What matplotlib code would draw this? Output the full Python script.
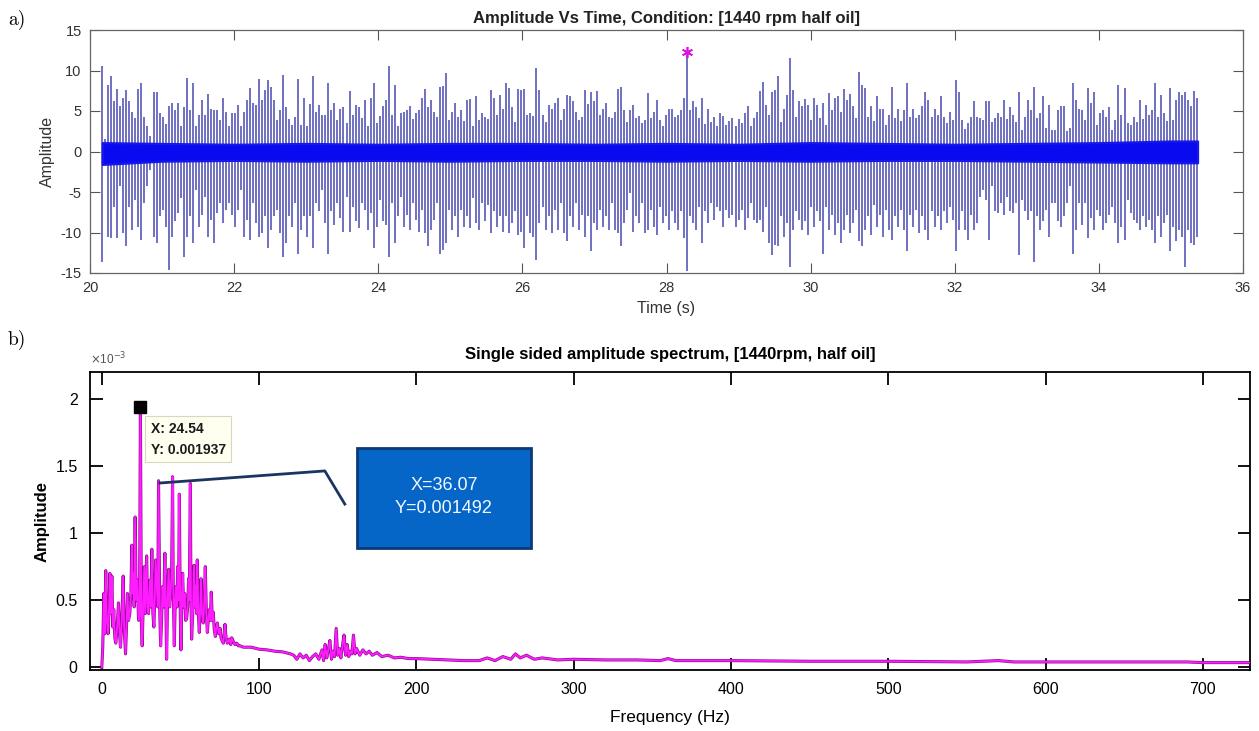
import numpy as np
import matplotlib
matplotlib.use("Agg")
import matplotlib.pyplot as plt
from matplotlib.patches import Rectangle

plt.rcParams["axes.unicode_minus"] = False

# ---- a) time signal: impact spikes (positive / negative peak per impact) ----
pos_peaks = [
    10.5, 1.6, 8.2, 9.3, 6.2, 7.7, 5.6, 6.6, 7.6, 6.2, 4.9, 4.1, 7.7, 8.5, 4.2, 3.1, 1.9, 7.4, 7.3, 4.7, 4.2, 3.4, 5.6, 6.0,
    5.1, 6.0, 3.1, 5.5, 9.1, 5.1, 8.5, 3.1, 4.5, 6.4, 4.5, 7.1, 5.2, 5.1, 5.1, 3.9, 6.6, 4.9, 3.1, 4.7, 4.7, 5.8, 3.1, 4.9,
    6.4, 7.8, 6.0, 5.8, 8.9, 6.4, 7.6, 8.8, 8.0, 6.4, 3.9, 5.1, 9.5, 5.5, 4.0, 3.3, 4.2, 8.9, 3.3, 6.6, 3.2, 5.9, 9.3, 4.9,
    5.8, 4.5, 4.5, 8.4, 5.1, 6.0, 3.9, 5.3, 5.5, 3.5, 7.5, 4.5, 5.8, 5.5, 4.1, 6.3, 3.2, 6.6, 8.4, 3.5, 4.4, 5.6, 6.4, 10.6,
    4.5, 8.2, 3.1, 4.7, 4.9, 5.1, 5.6, 4.0, 4.8, 5.1, 6.6, 7.7, 5.5, 6.4, 4.9, 4.3, 8.0, 8.1, 9.7, 3.9, 4.9, 6.0, 4.3, 5.1,
    3.8, 6.4, 6.5, 3.1, 6.9, 3.9, 4.8, 4.2, 4.0, 7.6, 6.6, 4.5, 7.0, 5.3, 8.4, 7.9, 5.5, 3.6, 7.7, 7.6, 7.7, 4.5, 4.7, 4.4, 10.3,
    7.6, 4.5, 3.7, 5.8, 5.2, 6.0, 6.6, 3.9, 5.3, 7.0, 6.8, 6.2, 4.9, 3.9, 4.2, 7.6, 5.9, 7.4, 6.2, 7.5, 4.5, 5.2, 6.0, 4.2,
    4.1, 4.9, 7.7, 8.0, 5.1, 3.7, 5.1, 5.8, 4.1, 4.4, 3.5, 3.9, 7.2, 4.1, 4.9, 6.3, 3.9, 3.2, 4.5, 5.2, 5.3, 4.2, 4.5, 5.1,
    6.6, 11.9, 5.1, 6.2, 5.5, 4.1, 6.6, 3.4, 5.2, 3.7, 4.3, 3.2, 4.7, 4.4, 3.3, 3.8, 4.1, 3.1, 4.0, 3.5, 4.8, 5.6, 3.1, 4.1, 4.9,
    7.5, 8.6, 5.8, 4.5, 7.4, 7.6, 9.3, 3.6, 5.3, 7.0, 11.6, 7.6, 4.2, 6.2, 5.6, 6.5, 5.8, 3.9, 6.6, 5.8, 4.1, 6.0, 3.3, 7.2,
    5.1, 6.6, 6.8, 4.9, 7.7, 6.3, 7.1, 5.6, 4.1, 9.8, 8.2, 7.8, 4.2, 5.6, 3.8, 6.8, 5.2, 5.3, 3.3, 4.5, 8.0, 4.1, 5.2, 3.8,
    5.1, 8.4, 4.2, 5.2, 4.1, 4.5, 5.6, 7.4, 6.4, 4.3, 5.3, 4.5, 6.8, 4.2, 3.5, 4.9, 3.9, 8.8, 7.3, 3.9, 2.8, 3.5, 4.3, 6.2, 4.2,
    4.1, 3.9, 6.2, 6.2, 3.7, 4.1, 4.7, 4.2, 6.4, 4.0, 5.5, 4.5, 3.7, 7.3, 2.7, 4.2, 6.4, 5.1, 8.0, 4.1, 4.8, 6.8, 2.9, 5.8,
    2.7, 2.7, 5.1, 5.6, 5.6, 2.5, 2.9, 8.4, 6.4, 5.2, 5.1, 3.9, 7.9, 6.0, 7.4, 3.3, 4.7, 5.1, 4.2, 5.5, 2.7, 3.9, 8.2, 4.5,
    7.9, 3.5, 3.3, 4.2, 3.6, 6.4, 4.0, 5.8, 4.5, 5.1, 8.4, 4.2, 7.0, 4.7, 3.8, 7.8, 3.9, 6.4, 7.3, 7.0, 7.4, 6.4, 5.6, 7.5, 6.6,
]
neg_peaks = [
    -13.6, -1.4, -10.5, -10.7, -6.8, -10.7, -4.3, -10.1, -11.7, -6.8, -9.7, -6.0, -9.3, -10.9, -6.4, -4.3, -2.3, -10.5,
    -11.3, -8.0, -7.2, -9.3, -14.6, -10.5, -8.6, -7.6, -5.8, -13.0, -10.5, -8.0, -11.3, -4.7, -9.3, -7.8, -5.6, -10.5,
    -8.4, -11.3, -7.6, -6.4, -8.8, -7.2, -6.4, -7.8, -9.3, -7.2, -4.7, -10.5, -8.4, -10.9, -6.4, -8.8, -10.5, -10.1,
    -8.0, -11.9, -9.7, -8.0, -7.2, -10.1, -13.0, -11.3, -8.0, -9.3, -6.4, -12.6, -9.7, -8.0, -10.5, -8.0, -11.9, -6.4,
    -7.4, -4.7, -8.8, -12.6, -7.4, -9.1, -6.4, -8.2, -9.9, -5.6, -9.9, -6.8, -8.6, -9.5, -6.4, -7.2, -9.7, -7.6,
    -11.9, -9.3, -6.0, -8.6, -9.1, -13.0, -6.4, -11.3, -8.0, -5.6, -9.3, -7.8, -9.7, -6.4, -8.4, -9.9, -7.2, -10.1,
    -11.7, -9.7, -8.4, -6.4, -12.6, -12.1, -11.3, -7.2, -9.7, -8.0, -10.5, -7.2, -9.3, -8.0, -9.5, -5.8, -8.8, -9.7,
    -6.4, -8.6, -6.6, -10.1, -7.4, -9.3, -8.0, -9.9, -8.0, -10.1, -8.8, -7.4, -10.3, -9.9, -11.9, -8.0, -10.1, -10.5, -13.4,
    -8.8, -6.8, -9.7, -8.0, -10.1, -7.2, -9.7, -6.4, -10.1, -11.1, -8.0, -9.3, -6.4, -9.7, -7.8, -10.5, -8.0, -12.3,
    -8.8, -9.7, -7.2, -9.3, -8.0, -9.7, -6.4, -9.7, -10.1, -11.7, -8.8, -7.2, -5.1, -9.9, -8.0, -8.8, -6.4, -10.1,
    -9.7, -7.2, -9.3, -10.3, -6.8, -8.8, -8.0, -9.7, -7.4, -8.8, -9.7, -7.4, -10.7, -14.7, -8.0, -8.8, -9.7, -6.8,
    -11.3, -7.4, -8.8, -6.4, -8.4, -6.8, -7.4, -9.3, -7.2, -8.2, -7.8, -9.3, -8.4, -7.2, -9.7, -8.2, -6.4, -8.4, -8.8,
    -8.4, -9.9, -6.8, -11.3, -12.8, -11.5, -11.7, -8.0, -10.5, -8.8, -14.2, -9.7, -7.4, -8.4, -9.7, -8.6, -10.3, -6.8,
    -9.3, -7.4, -8.6, -12.6, -6.8, -9.7, -7.8, -10.3, -8.8, -11.3, -9.7, -7.8, -10.1, -8.8, -7.2, -11.1, -11.7, -9.7,
    -8.0, -10.3, -6.6, -9.3, -7.8, -10.5, -7.2, -9.7, -10.9, -8.0, -9.3, -7.2, -9.7, -12.3, -7.8, -9.3, -7.2, -10.1,
    -8.0, -9.7, -10.9, -7.4, -9.3, -8.0, -9.7, -7.4, -8.8, -6.8, -8.4, -12.3, -9.7, -7.4, -9.7, -10.9, -7.8, -9.7, -8.8,
    -5.6, -4.7, -6.0, -10.9, -4.3, -7.4, -7.6, -6.4, -7.8, -5.6, -7.4, -7.6, -6.4, -12.8, -6.0, -7.4, -8.4, -7.4,
    -13.6, -8.0, -9.7, -8.6, -7.2, -10.5, -6.4, -6.4, -8.6, -9.3, -8.0, -6.4, -4.3, -12.6, -9.7, -6.4, -9.1, -6.4,
    -10.7, -8.2, -9.7, -7.2, -8.0, -9.7, -8.8, -7.8, -6.8, -8.8, -11.3, -9.3, -10.9, -6.0, -7.6, -8.4, -8.8, -9.7,
    -8.0, -9.3, -8.4, -9.7, -11.3, -8.0, -10.5, -8.8, -7.8, -12.3, -9.3, -11.1, -9.7, -10.5, -14.2, -9.7, -11.3, -11.5, -10.5,
]
t_start, t_end = 20.17, 35.36

# dense noise band around zero
band_t = [20.17, 21, 22, 23, 24, 25, 26, 27, 28, 29, 30, 31, 32, 33, 34, 35, 35.37]
band_hi = [1.1, 1.0, 0.9, 1.0, 0.9, 1.0, 1.0, 0.9, 1.0, 0.9, 1.1, 1.0, 0.9, 1.0, 1.1, 1.3, 1.3]
band_lo = [-1.6, -1.2, -1.1, -1.2, -1.1, -1.2, -1.1, -1.1, -1.2, -1.1, -1.2, -1.1, -1.1, -1.2, -1.3, -1.4, -1.4]

# ---- b) single sided spectrum (amplitude in units of 1e-3) ----
freq_hz = [
    0.0, 0.6, 1.3, 1.9, 2.5, 3.2, 4.0, 4.7, 5.1, 5.7, 6.4, 7.0, 7.6, 8.3, 8.9, 9.8, 10.6, 11.3, 11.9, 12.7, 13.6, 14.2,
    15.1, 15.7, 16.3, 17.0, 17.8, 18.5, 19.1, 19.5, 20.0, 20.6, 21.2, 21.9, 22.5, 23.4, 24.0, 24.54, 25.2, 25.7, 26.3,
    27.0, 27.6, 28.5, 29.1, 29.7, 30.6, 31.2, 31.8, 32.5, 33.1, 33.8, 34.2, 35.0, 35.6, 36.07, 36.9, 37.4, 38.0, 38.6,
    39.3, 40.1, 40.8, 41.2, 41.8, 42.5, 43.1, 43.7, 44.4, 45.0, 45.4, 46.1, 46.7, 47.1, 47.8, 48.2, 48.8, 49.3, 49.9,
    50.3, 51.0, 51.4, 52.0, 52.7, 53.3, 53.9, 54.6, 55.2, 55.6, 56.3, 56.7, 57.1, 58.0, 58.6, 59.2, 59.9, 60.3, 60.7,
    61.4, 62.0, 62.6, 63.1, 63.7, 64.5, 65.2, 65.8, 66.5, 67.1, 67.7, 68.4, 69.0, 69.6, 70.3, 70.9, 71.5, 72.2, 72.8,
    73.5, 74.3, 75.2, 75.8, 76.4, 77.3, 78.3, 79.0, 79.8, 81.1, 82.0, 82.6, 83.7, 84.7, 85.8, 86.8, 87.9, 90.0,
    95, 100, 105, 110, 115, 120, 122, 124, 126, 128, 130, 132, 134, 136, 138, 140, 141, 142, 143, 144, 145, 146, 147,
    148, 149, 150, 151, 152, 153, 154, 155, 156, 157, 158, 159, 160, 161, 162, 164, 166, 168, 170, 172, 175, 178, 182,
    186, 190, 195, 200, 210, 220, 230, 240, 245, 250, 255, 260, 263, 266, 270, 275, 280, 290, 300, 320, 340, 355, 360,
    365, 380, 400, 450, 500, 550, 570, 580, 600, 650, 690, 700, 730,
]
amp_e3 = [
    0.0, 0.15, 0.55, 0.25, 0.72, 0.35, 0.25, 0.45, 0.70, 0.40, 0.68, 0.30, 0.43, 0.22, 0.18, 0.30, 0.48, 0.25, 0.15, 0.35,
    0.68, 0.30, 0.10, 0.30, 0.55, 0.35, 0.40, 0.55, 0.91, 0.55, 0.70, 0.45, 1.12, 0.50, 0.65, 0.35, 0.38, 1.937, 0.30,
    0.16, 0.45, 0.75, 0.40, 0.83, 0.45, 0.40, 0.65, 0.45, 0.88, 0.40, 0.30, 0.55, 0.80, 0.60, 0.45, 1.39, 0.40, 0.16,
    0.35, 0.60, 0.45, 0.85, 0.40, 0.06, 0.50, 0.73, 0.45, 0.54, 0.70, 1.42, 0.60, 0.16, 0.50, 0.60, 0.45, 0.75, 0.50,
    1.29, 0.40, 0.13, 0.55, 0.70, 0.45, 0.55, 0.35, 0.36, 0.45, 0.66, 0.50, 1.37, 0.50, 0.21, 0.45, 0.76, 0.45, 0.61,
    0.40, 0.80, 0.40, 0.26, 0.45, 0.66, 0.40, 0.33, 0.50, 0.75, 0.40, 0.26, 0.35, 0.43, 0.35, 0.56, 0.35, 0.41, 0.28,
    0.23, 0.30, 0.33, 0.25, 0.29, 0.22, 0.20, 0.18, 0.32, 0.22, 0.18, 0.21, 0.17, 0.22, 0.19, 0.17, 0.18, 0.16, 0.16, 0.15,
    0.15, 0.135, 0.13, 0.12, 0.115, 0.10, 0.09, 0.06, 0.10, 0.07, 0.09, 0.05, 0.08, 0.10, 0.06, 0.13, 0.05, 0.17, 0.07,
    0.13, 0.20, 0.06, 0.12, 0.08, 0.29, 0.09, 0.14, 0.07, 0.16, 0.24, 0.09, 0.17, 0.08, 0.12, 0.10, 0.24, 0.10, 0.14,
    0.09, 0.13, 0.10, 0.12, 0.09, 0.11, 0.08, 0.09, 0.07, 0.075, 0.065, 0.065, 0.06, 0.055, 0.05, 0.05, 0.07, 0.05,
    0.08, 0.06, 0.10, 0.07, 0.09, 0.06, 0.07, 0.055, 0.06, 0.055, 0.055, 0.05, 0.065, 0.05, 0.05, 0.05, 0.045, 0.045,
    0.04, 0.05, 0.04, 0.04, 0.04, 0.04, 0.035, 0.035,
]
tip_f, tip_a = 24.54, 1.937
note_text = "X=36.07\nY=0.001492"

W, H = 1259, 731
fig = plt.figure(figsize=(W / 100, H / 100), dpi=100)
sans = ["Liberation Sans", "DejaVu Sans"]

# ------------------------------- a) -------------------------------
ax1 = fig.add_axes([90 / W, 1 - 273 / H, 1153 / W, 243 / H])
spike_t = np.linspace(t_start, t_end, len(pos_peaks))
ax1.vlines(spike_t, neg_peaks, pos_peaks, color="#6464be", lw=1.3, zorder=2)
ax1.fill_between(band_t, band_lo, band_hi, color="#0a0af0", ec="#1818e8", lw=1.5, zorder=3)
i_max = int(np.argmax(pos_peaks))
ax1.plot(spike_t[i_max], pos_peaks[i_max] + 0.35, marker=(6, 2, 0), ms=8, mew=1.2,
         color="#e010e0", ls="none", zorder=4)

ax1.set_xlim(20, 36)
ax1.set_ylim(-15, 15)
ax1.set_xticks(range(20, 37, 2))
ax1.set_yticks(range(-15, 16, 5))
ax1.tick_params(direction="in", length=7, width=0.8, top=True, right=True, pad=6,
                colors="#555555", labelcolor="#333333", labelsize=10.5)
for lab in ax1.get_xticklabels() + ax1.get_yticklabels():
    lab.set_family(sans)
for s in ax1.spines.values():
    s.set_color("#666666")
    s.set_linewidth(0.9)
ax1.set_title("Amplitude Vs Time, Condition: [1440 rpm half oil]", family=sans,
              fontsize=12, fontweight="bold", color="#222222", pad=5)
ax1.set_xlabel("Time (s)", family=sans, fontsize=11.5, color="#333333", labelpad=4)
ax1.set_ylabel("Amplitude", family=sans, fontsize=11.5, color="#333333", labelpad=4)

# ------------------------------- b) -------------------------------
ax2 = fig.add_axes([90 / W, 1 - 670 / H, 1160 / W, 298 / H])
ax2.plot(freq_hz, amp_e3, color="#8a0a8a", lw=2.2, zorder=2)
ax2.plot(freq_hz, amp_e3, color="#ff1cff", lw=1.3, zorder=3)
ax2.plot(tip_f, tip_a, marker="s", ms=8, color="black", ls="none", zorder=5)

ax2.set_xlim(-7.5, 730)
ax2.set_ylim(-0.02, 2.2)
ax2.set_xticks(range(0, 701, 100))
ax2.set_yticks([0, 0.5, 1, 1.5, 2])
ax2.set_yticklabels(["0", "0.5", "1", "1.5", "2"])
ax2.tick_params(direction="in", length=9, width=1.3, top=True, right=True,
                colors="black", labelsize=11.5, pad=9)
for lab in ax2.get_xticklabels() + ax2.get_yticklabels():
    lab.set_family(sans)
for s in ax2.spines.values():
    s.set_color("black")
    s.set_linewidth(1.3)
ax2.set_title("Single sided amplitude spectrum, [1440rpm, half oil]", family=sans,
              fontsize=12, fontweight="bold", pad=9)
ax2.set_xlabel("Frequency (Hz)", family=sans, fontsize=12.5, labelpad=9)
ax2.set_ylabel("Amplitude", family=sans, fontsize=12, fontweight="bold", labelpad=4)
ax2.text(0.0, 1.015, r"$\times$10$^{-3}$", transform=ax2.transAxes, family=sans,
         fontsize=8.5, color="#555555", ha="left", va="bottom")

# data tip
ax2.text(31.0, 1.83, f"X: {tip_f}\nY: {tip_a / 1000:.6f}", family=sans, fontsize=10,
         fontweight="bold", color="#1a1a1a", ha="left", va="top", linespacing=1.65, zorder=6,
         bbox=dict(boxstyle="square,pad=0.4", fc="#fffff0", ec="#d8d8c0", lw=0.8))

# blue call-out
ax2.add_patch(Rectangle((162, 0.89), 111, 0.745, fc="#0566c8", ec="#0b3a78", lw=2, zorder=6))
ax2.text(217.5, 1.27, note_text, color="#f4f8ff", fontsize=13, family=sans, ha="center",
         va="center", linespacing=1.5, zorder=7)
ax2.plot([36.9, 141.8, 154.5], [1.373, 1.463, 1.216], color="#1a3560", lw=2, zorder=6)

fig.text(8 / W, 1 - 20 / H, "a)", family="cmr10", fontsize=14, va="center")
fig.text(8 / W, 1 - 340 / H, "b)", family="cmr10", fontsize=14, va="center")

fig.savefig("out.png", dpi=100)
